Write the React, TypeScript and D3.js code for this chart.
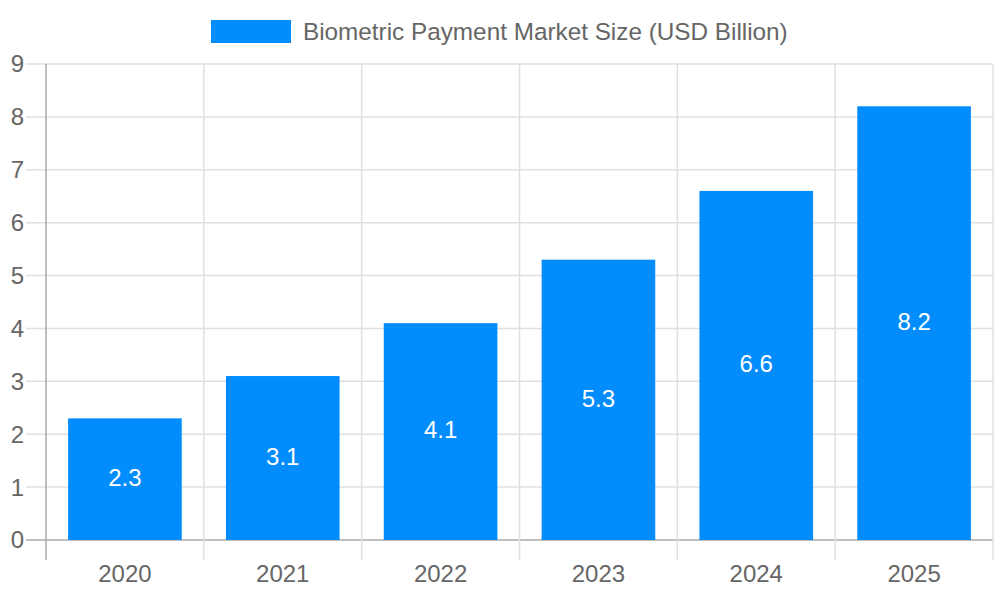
import React from "react";
import * as d3 from "d3";

const categories = ["2020", "2021", "2022", "2023", "2024", "2025"];
const values = [2.3, 3.1, 4.1, 5.3, 6.6, 8.2];
const yTicks = [0, 1, 2, 3, 4, 5, 6, 7, 8, 9];
const seriesLabel = "Biometric Payment Market Size (USD Billion)";

const W = 1000;
const H = 600;
const left = 46;
const right = 993;
const top = 64;
const bottom = 540;
const barColor = "#038cfc";
const font = "'Liberation Sans', Arial, sans-serif";

export default function App() {
  const x = d3.scaleBand<string>().domain(categories).range([left, right]).paddingInner(0).paddingOuter(0);
  const y = d3.scaleLinear().domain([0, 9]).range([bottom, top]);
  const bw = x.bandwidth() * 0.72;
  const gridX = categories.map((c) => x(c) as number).concat([right]);

  return (
    <svg width={W} height={H} style={{ position: "absolute", left: 0, top: 0 }} fontFamily={font}>
      <rect x={0} y={0} width={W} height={H} fill="#fff" />
      {/* legend */}
      <rect x={211} y={20} width={80} height={23} fill={barColor} />
      <text x={303} y={31.5} dy="0.35em" fontSize={24.3} fill="#666">{seriesLabel}</text>
      {/* horizontal grid */}
      {yTicks.map((t) => (
        <g key={"y" + t}>
          <line x1={26} x2={right} y1={y(t)} y2={y(t)} stroke={t === 0 ? "#aaa" : "#e0e0e0"} strokeWidth={1.5} />
          <text x={24} y={y(t)} dy="0.35em" textAnchor="end" fontSize={24} fill="#666">{t}</text>
        </g>
      ))}
      {/* vertical grid */}
      {gridX.map((gx, i) => (
        <line key={"x" + i} x1={gx} x2={gx} y1={top} y2={560} stroke={i === 0 ? "#aaa" : "#e0e0e0"} strokeWidth={1.5} />
      ))}
      {/* bars */}
      {categories.map((c, i) => {
        const cx = (x(c) as number) + x.bandwidth() / 2;
        const y0 = y(values[i]);
        return (
          <g key={c}>
            <rect x={cx - bw / 2} y={y0} width={bw} height={bottom - y0} fill={barColor} />
            <text x={cx} y={(y0 + bottom) / 2 - 1.5} dy="0.35em" textAnchor="middle" fontSize={24} fill="#fff">{values[i]}</text>
            <text x={cx} y={574} dy="0.35em" textAnchor="middle" fontSize={24} fill="#666">{c}</text>
          </g>
        );
      })}
    </svg>
  );
}
